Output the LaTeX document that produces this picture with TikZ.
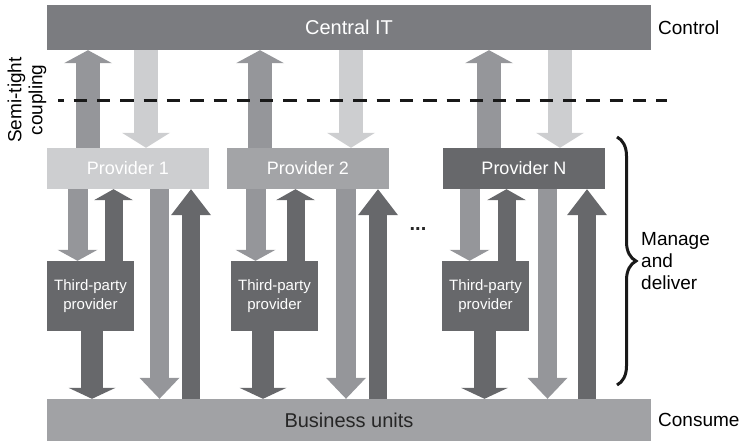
\documentclass[tikz,border=0pt]{standalone}
\usepackage{fontspec}
\setmainfont{Liberation Sans}
\usepackage{xcolor}
\usetikzlibrary{arrows.meta,decorations.pathreplacing}
\definecolor{greycentral}{HTML}{7B7C80}
\definecolor{greybusiness}{HTML}{A1A2A5}
\definecolor{greylight}{HTML}{CDCED0}
\definecolor{greymid}{HTML}{95969A}
\definecolor{greyprov}{HTML}{A3A4A7}
\definecolor{greydark}{HTML}{67686B}

\tikzset{
  bar/.style = {rectangle, inner sep = 0pt, minimum width = 604pt, text = white, font = \fontsize{20}{24}\selectfont},
  provbox/.style = {rectangle, inner sep = 0pt, minimum width = 162pt, minimum height = 41pt, text = white, font = \fontsize{18}{22}\selectfont},
  thirdbox/.style = {rectangle, inner sep = 0pt, minimum width = 87pt, minimum height = 70pt, fill = greydark, text = white, align = center, font = \fontsize{15}{19}\selectfont},
  sidelabel/.style = {anchor = west, inner sep = 0pt, align = left, font = \fontsize{19}{22}\selectfont},
  fat/.style args = {#1/#2/#3/#4}{draw = #4, line width = #1, -{Triangle[width = #2, length = #3, line width = 0pt]}},
  uptop/.style = {fat = 24pt/48pt/13pt/greymid},
  downtop/.style = {fat = 24pt/48pt/15pt/greylight},
  downin/.style = {fat = 20pt/40pt/11pt/greymid},
  upin/.style = {fat = 18pt/39pt/11pt/greydark},
  thirdout/.style = {fat = 22pt/47pt/11pt/greydark},
  longdown/.style = {fat = 19.5pt/40pt/21pt/greymid},
  longup/.style = {fat = 18pt/40pt/26pt/greydark}
}

\begin{document}
\begin{tikzpicture}[x = 1pt, y = -1pt]
        \useasboundingbox (0, 0) rectangle (744, 444);

        % Nodes
        \node [bar, fill = greycentral, minimum height = 45pt] (central) at (349, 27.5) {Central IT};
        \node [bar, fill = greybusiness, minimum height = 42pt, text = black!85] (business) at (349, 420) {Business units};
        \node [provbox, fill = greylight] (p1) at (128, 168.5) {Provider 1};
        \node [provbox, fill = greyprov] (p2) at (308, 168.5) {Provider 2};
        \node [provbox, fill = greydark] (pn) at (524, 168.5) {Provider N};
        \node [thirdbox] (t1) at (90.5, 296) {Third-party\\provider};
        \node [thirdbox] (t2) at (274.5, 296) {Third-party\\provider};
        \node [thirdbox] (tn) at (485.5, 296) {Third-party\\provider};
        \node [font = \bfseries\fontsize{20}{20}\selectfont, text = black!85] (dots) at (418, 229) {...};

        % Draw the links, provider 1
        \draw [uptop] (p1.north -| 88, 0) -- (central.south -| 88, 0);
        \draw [downtop] (central.south -| 146, 0) -- (p1.north -| 146, 0);
        \draw [downin] (p1.south -| 77.5, 0) -- (t1.north -| 77.5, 0);
        \draw [upin] (t1.north -| 113.5, 0) -- (p1.south -| 113.5, 0);
        \draw [thirdout] (t1.south -| 92, 0) -- (business.north -| 92, 0);
        \draw [longdown] (p1.south -| 159.5, 0) -- (business.north -| 159.5, 0);
        \draw [longup] (business.north -| 191, 0) -- (p1.south -| 191, 0);

        % provider 2
        \draw [uptop] (p2.north -| 260, 0) -- (central.south -| 260, 0);
        \draw [downtop] (central.south -| 351, 0) -- (p2.north -| 351, 0);
        \draw [downin] (p2.south -| 255.5, 0) -- (t2.north -| 255.5, 0);
        \draw [upin] (t2.north -| 295.5, 0) -- (p2.south -| 295.5, 0);
        \draw [thirdout] (t2.south -| 263, 0) -- (business.north -| 263, 0);
        \draw [longdown] (p2.south -| 346, 0) -- (business.north -| 346, 0);
        \draw [longup] (business.north -| 378, 0) -- (p2.south -| 378, 0);

        % provider N
        \draw [uptop] (pn.north -| 489, 0) -- (central.south -| 489, 0);
        \draw [downtop] (central.south -| 560, 0) -- (pn.north -| 560, 0);
        \draw [downin] (pn.south -| 469.5, 0) -- (tn.north -| 469.5, 0);
        \draw [upin] (tn.north -| 506.5, 0) -- (pn.south -| 506.5, 0);
        \draw [thirdout] (tn.south -| 484.5, 0) -- (business.north -| 484.5, 0);
        \draw [longdown] (pn.south -| 547.5, 0) -- (business.north -| 547.5, 0);
        \draw [longup] (business.north -| 587, 0) -- (pn.south -| 587, 0);

        % Coupling line
        \coordinate (cstart) at (58, 100);
        \coordinate (cend) at (667, 100);
        \draw [line width = 3pt, black!90, dash pattern = on 13.3pt off 10pt, dash phase = 7.6pt] (cstart) -- (cend);

        % Brace
        \coordinate (btop) at (617, 137);
        \coordinate (bbot) at (617, 385);
        \draw [line width = 3pt, black!90, decorate, decoration = {brace, amplitude = 19pt}] (btop) -- (bbot);

        % Side labels
        \node [sidelabel] (control) at (658, 27.5) {Control};
        \node [sidelabel] (manage) at (641, 261) {Manage\\and\\deliver};
        \node [sidelabel] (consume) at (658, 420) {Consume};
        \node [rotate = 90, align = center, inner sep = 0pt, font = \fontsize{19}{21}\selectfont] (coupling) at (27, 100) {Semi-tight\\coupling};

    \end{tikzpicture}
\end{document}
